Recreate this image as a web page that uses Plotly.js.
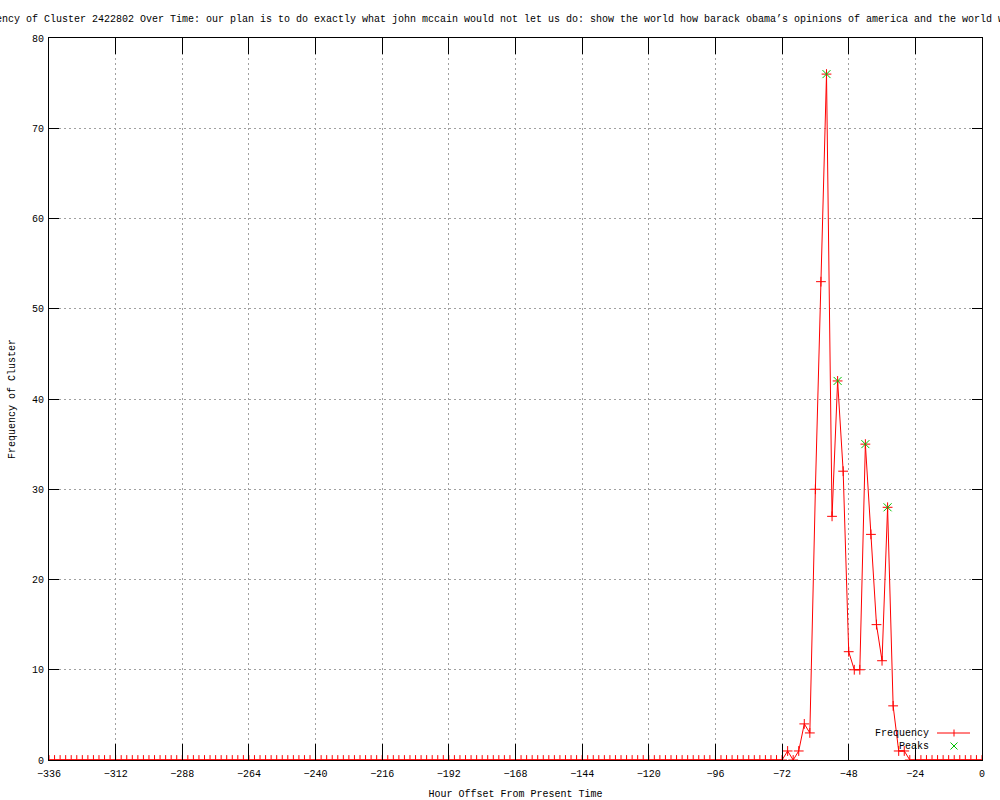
<!DOCTYPE html>
<html>
<head>
<meta charset="utf-8">
<script src="https://cdn.plot.ly/plotly-3.0.1.min.js"></script>
<style>
  html, body { margin: 0; padding: 0; background: #ffffff; }
  #chart { width: 1000px; height: 800px; }
</style>
</head>
<body>
<div id="chart"></div>
<script>
// Hour offsets (every 2 hours) from -336 to 0
var hours = [
  -336,-334,-332,-330,-328,-326,-324,-322,-320,-318,-316,-314,
  -312,-310,-308,-306,-304,-302,-300,-298,-296,-294,-292,-290,
  -288,-286,-284,-282,-280,-278,-276,-274,-272,-270,-268,-266,
  -264,-262,-260,-258,-256,-254,-252,-250,-248,-246,-244,-242,
  -240,-238,-236,-234,-232,-230,-228,-226,-224,-222,-220,-218,
  -216,-214,-212,-210,-208,-206,-204,-202,-200,-198,-196,-194,
  -192,-190,-188,-186,-184,-182,-180,-178,-176,-174,-172,-170,
  -168,-166,-164,-162,-160,-158,-156,-154,-152,-150,-148,-146,
  -144,-142,-140,-138,-136,-134,-132,-130,-128,-126,-124,-122,
  -120,-118,-116,-114,-112,-110,-108,-106,-104,-102,-100,-98,
  -96,-94,-92,-90,-88,-86,-84,-82,-80,-78,-76,-74,
  -72,-70,-68,-66,-64,-62,-60,-58,-56,-54,-52,-50,
  -48,-46,-44,-42,-40,-38,-36,-34,-32,-30,-28,-26,
  -24,-22,-20,-18,-16,-14,-12,-10,-8,-6,-4,-2,
  0
];
// Frequency of cluster at each hour offset
var frequency = [
  0,0,0,0,0,0,0,0,0,0,0,0,
  0,0,0,0,0,0,0,0,0,0,0,0,
  0,0,0,0,0,0,0,0,0,0,0,0,
  0,0,0,0,0,0,0,0,0,0,0,0,
  0,0,0,0,0,0,0,0,0,0,0,0,
  0,0,0,0,0,0,0,0,0,0,0,0,
  0,0,0,0,0,0,0,0,0,0,0,0,
  0,0,0,0,0,0,0,0,0,0,0,0,
  0,0,0,0,0,0,0,0,0,0,0,0,
  0,0,0,0,0,0,0,0,0,0,0,0,
  0,0,0,0,0,0,0,0,0,0,0,0,
  0,1,0,1,4,3,30,53,76,27,42,32,
  12,10,10,35,25,15,11,28,6,1,1,0,
  0,0,0,0,0,0,0,0,0,0,0,0,
  0
];
// Detected peaks
var peakHours = [-56, -52, -42, -34];
var peakValues = [76, 42, 35, 28];

var xTickStep = 24;
var yTickStep = 10;

var titleText = "Frequency of Cluster 2422802 Over Time: our plan is to do exactly what john mccain would not let us do: show the world how barack obama\u2019s opinions of america and the world w";
var xTitle = "Hour Offset From Present Time";
var yTitle = "Frequency of Cluster";
var legendNames = ["Frequency", "Peaks"];

var FONT = "Liberation Mono, DejaVu Sans Mono, monospace";
var RED = "#ff0000";
var GREEN = "#00c000";

var traces = [
  {
    x: hours, y: frequency, type: "scatter", mode: "lines+markers",
    name: legendNames[0],
    line: { color: RED, width: 1 },
    marker: { symbol: "cross-thin-open", size: 7, color: RED, line: { color: RED, width: 1 } },
    showlegend: false, hoverinfo: "x+y"
  },
  {
    x: peakHours, y: peakValues, type: "scatter", mode: "markers",
    name: legendNames[1],
    marker: { symbol: "x-thin-open", size: 8, color: GREEN, line: { color: GREEN, width: 1 } },
    showlegend: false, hoverinfo: "x+y"
  }
];

// plot-area geometry helpers for the hand-made gnuplot-style key
var L = 49, R = 18, T = 38, B = 40, W = 1000, H = 800;
var pw = W - L - R, ph = H - T - B;
function px(xp) { return (xp - L) / pw; }
function py(yp) { return (H - B - yp) / ph; }

var layout = {
  width: W, height: H,
  margin: { l: L, r: R, t: T, b: B, pad: 0 },
  paper_bgcolor: "#ffffff",
  plot_bgcolor: "#ffffff",
  font: { family: FONT, size: 10, color: "#000000" },
  showlegend: false,
  title: {
    text: titleText,
    font: { family: FONT, size: 10, color: "#000000" },
    xref: "container", x: 0.485, xanchor: "center",
    yref: "container", y: 0.977, yanchor: "middle"
  },
  xaxis: {
    range: [-336, 0], tick0: 0, dtick: xTickStep,
    ticks: "inside", ticklen: 16, tickwidth: 1, tickcolor: "#000000",
    showline: true, linecolor: "#000000", linewidth: 1, mirror: "ticks",
    showgrid: true, gridcolor: "#a0a0a0", gridwidth: 1, griddash: "2px,3px",
    zeroline: false, fixedrange: true, ticklabelstandoff: 4,
    tickfont: { family: FONT, size: 10, color: "#000000" },
    title: { text: xTitle, font: { family: FONT, size: 10, color: "#000000" }, standoff: 10 }
  },
  yaxis: {
    range: [0, 80], tick0: 0, dtick: yTickStep,
    ticks: "inside", ticklen: 10, tickwidth: 1, tickcolor: "#000000",
    showline: true, linecolor: "#000000", linewidth: 1, mirror: "ticks",
    showgrid: true, gridcolor: "#a0a0a0", gridwidth: 1, griddash: "2px,3px",
    zeroline: false, fixedrange: true, ticklabelstandoff: 2,
    tickfont: { family: FONT, size: 10, color: "#000000" },
    title: { text: yTitle, font: { family: FONT, size: 10, color: "#000000" }, standoff: 14 }
  },
  annotations: [
    { xref: "paper", yref: "paper", x: px(931), y: py(733), xanchor: "right", yanchor: "middle",
      text: legendNames[0], showarrow: false, font: { family: FONT, size: 10, color: "#000000" } },
    { xref: "paper", yref: "paper", x: px(931), y: py(746), xanchor: "right", yanchor: "middle",
      text: legendNames[1], showarrow: false, font: { family: FONT, size: 10, color: "#000000" } }
  ],
  shapes: [
    { type: "line", xref: "paper", yref: "paper", x0: px(937), x1: px(970), y0: py(733), y1: py(733),
      line: { color: RED, width: 1 } },
    { type: "line", xref: "paper", yref: "paper", x0: px(954), x1: px(954), y0: py(736.5), y1: py(729.5),
      line: { color: RED, width: 1 } },
    { type: "line", xref: "paper", yref: "paper", x0: px(950.5), x1: px(957.5), y0: py(749.5), y1: py(742.5),
      line: { color: GREEN, width: 1 } },
    { type: "line", xref: "paper", yref: "paper", x0: px(950.5), x1: px(957.5), y0: py(742.5), y1: py(749.5),
      line: { color: GREEN, width: 1 } }
  ]
};

Plotly.newPlot("chart", traces, layout, { displayModeBar: false, staticPlot: true });
</script>
</body>
</html>
